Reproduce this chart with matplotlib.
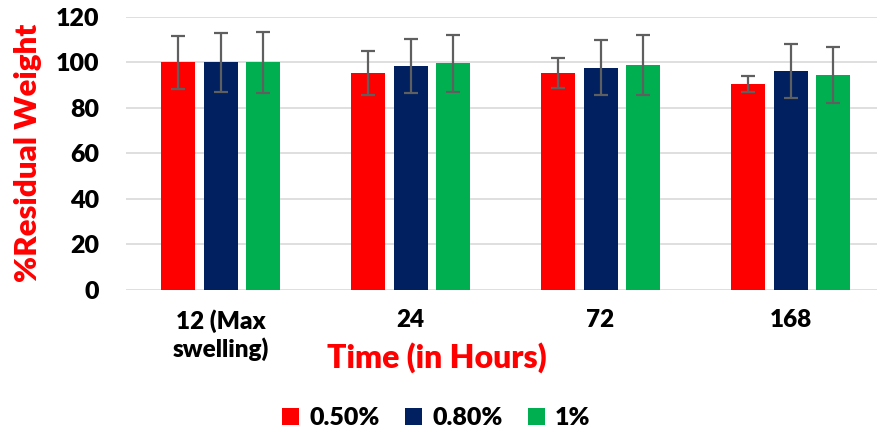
import numpy as np
import matplotlib
matplotlib.use("Agg")
import matplotlib.pyplot as plt
from matplotlib.patches import Patch

# Datos
categories = ["12 (Max\nswelling)", "24", "72", "168"]
series_names = ["0.50%", "0.80%", "1%"]
values_050 = [100, 95.4, 95.4, 90.5]
values_080 = [100, 98.5, 97.6, 96.3]
values_100 = [100, 99.6, 98.8, 94.5]
err_050 = [11.5, 9.8, 6.4, 3.5]
err_080 = [13.0, 11.9, 12.1, 11.7]
err_100 = [13.6, 12.7, 13.1, 12.1]

colors = ["#FF0000", "#002060", "#00B050"]
plt.rcParams["font.family"] = ["Lato", "DejaVu Sans"]
W = "heavy"

fig = plt.figure(figsize=(8.78, 4.36), dpi=100)
ax = fig.add_axes([0.143, 0.335, 0.8656, 0.626])

x = np.arange(len(categories))
width = 0.179
step = 0.226
all_vals = [values_050, values_080, values_100]
all_errs = [err_050, err_080, err_100]
for i, (vals, errs) in enumerate(zip(all_vals, all_errs)):
    ax.bar(x + (i - 1) * step, vals, width, color=colors[i], yerr=errs,
           error_kw=dict(ecolor="#5f5f5f", elinewidth=1.6, capsize=5, capthick=1.6),
           zorder=3)

ax.set_xlim(-0.5, len(categories) - 0.5)
ax.set_ylim(0, 120)
ax.set_yticks(np.arange(0, 121, 20))
ax.yaxis.grid(True, color="#D9D9D9", linewidth=1.2, zorder=0)
ax.set_axisbelow(True)
for s in ax.spines.values():
    s.set_visible(False)

ax.set_xticks(x)
ax.set_xticklabels(categories, fontsize=17.5, fontweight=W, linespacing=1.2)
ax.tick_params(axis="x", length=0, pad=14)
ax.tick_params(axis="y", length=0, pad=19, labelsize=18)
for lab in ax.get_yticklabels():
    lab.set_fontweight(W)

fig.text(0.032, 0.65, "%Residual Weight", rotation=90, color="#FF0000",
         fontsize=22.5, fontweight=W, ha="center", va="center")
fig.text(0.498, 0.181, "Time (in Hours)", color="#FF0000",
         fontsize=23, fontweight=W, ha="center", va="center")

handles = [Patch(facecolor=c) for c in colors]
fig.legend(handles, series_names, loc="center", ncol=3,
           bbox_to_anchor=(0.497, 0.041), frameon=False,
           prop=dict(size=18, weight=W), handlelength=0.7,
           handleheight=0.7, handletextpad=0.4, columnspacing=1.0)

fig.savefig("out.png", dpi=100)
